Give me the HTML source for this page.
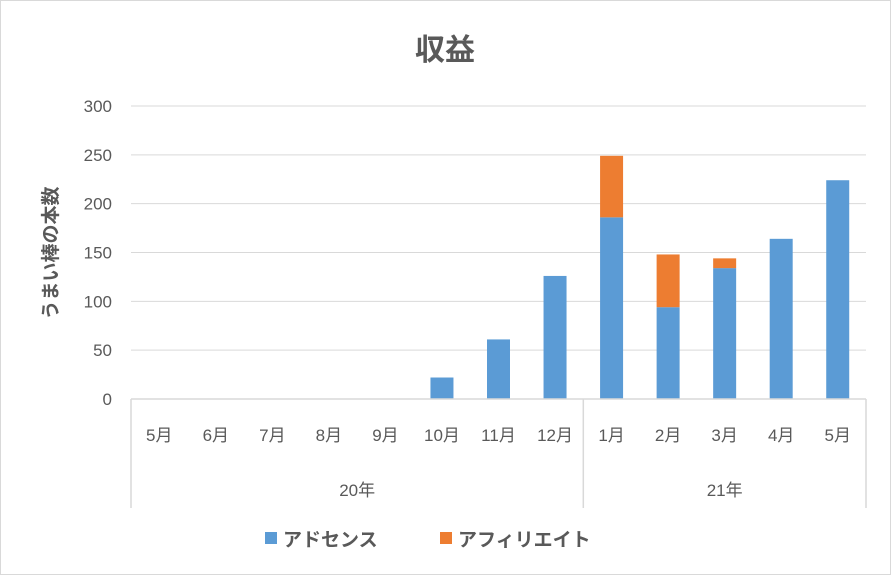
<!DOCTYPE html>
<html><head><meta charset="utf-8"><style>
body{margin:0;background:#fff}
svg{display:block;font-family:"Liberation Sans","Noto Sans CJK JP",sans-serif}
</style></head><body>
<svg id="c" width="891" height="575">
<rect x="0.5" y="0.5" width="890" height="574" fill="#fff" stroke="#d9d9d9"/>
<text x="445" y="60" text-anchor="middle" font-size="30" font-weight="bold" fill="#595959">収益</text>
<text transform="translate(57,253) rotate(-90)" text-anchor="middle" font-size="19" font-weight="bold" fill="#595959">うまい棒の本数</text>
<g id="grid"></g><g id="bars"></g><g id="axis"></g>
<g>
<rect x="265" y="532" width="12" height="12" fill="#5b9bd5"/>
<text x="283" y="546" font-size="19" font-weight="bold" fill="#595959">アドセンス</text>
<rect x="440" y="532" width="12" height="12" fill="#ed7d31"/>
<text x="458" y="546" font-size="19" font-weight="bold" fill="#595959">アフィリエイト</text>
</g>
</svg>
<script>
const months=["5月","6月","7月","8月","9月","10月","11月","12月","1月","2月","3月","4月","5月"];
const adsense=[0,0,0,0,0,22,61,126,186,94,134,164,224];
const affiliate=[0,0,0,0,0,0,0,0,63,54,10,0,0];
const yTicks=[0,50,100,150,200,250,300];
const years=["20年","21年"];
const yearSpans=[8,5];
const NS="http://www.w3.org/2000/svg";
const x0=131,x1=866,y0=399,yTop=106,yMax=300;
const bw=(x1-x0)/months.length;
const Y=v=>y0-(v/yMax)*(y0-yTop);
const X=i=>x0+bw*(i+0.5);
function mk(t,a,p){const e=document.createElementNS(NS,t);for(const k in a)e.setAttribute(k,a[k]);p.appendChild(e);return e;}
const grid=document.getElementById('grid'),bars=document.getElementById('bars'),axis=document.getElementById('axis');
yTicks.forEach(v=>{
 if(v>0){const l=mk('line',{x1:x0,x2:x1,y1:Y(v),y2:Y(v),stroke:'#d9d9d9','stroke-width':1},grid);
 
 }
 const t=mk('text',{x:112,y:Y(v)+6,'text-anchor':'end','font-size':17,fill:'#595959'},axis);
 t.textContent=v;
 
 
});
months.forEach((m,i)=>{
 const w=23,cx=X(i);
 if(adsense[i]>0){const r=mk('rect',{x:cx-w/2,y:Y(adsense[i]),width:w,height:y0-Y(adsense[i]),fill:'#5b9bd5'},bars);
 
 }
 if(affiliate[i]>0){const top=adsense[i]+affiliate[i];const r=mk('rect',{x:cx-w/2,y:Y(top),width:w,height:Y(adsense[i])-Y(top),fill:'#ed7d31'},bars);
 
 }
 const t=mk('text',{x:cx,y:441,'text-anchor':'middle','font-size':17,fill:'#595959'},axis);
 t.textContent=m;
 
 
});
const base=mk('line',{x1:x0,x2:x1,y1:y0,y2:y0,stroke:'#d9d9d9','stroke-width':1.5},axis);


let start=0;
const sepAt=[0];
yearSpans.forEach((n,j)=>{
 const cx=x0+bw*(start+n/2);
 const t=mk('text',{x:cx,y:496,'text-anchor':'middle','font-size':17,fill:'#595959'},axis);
 t.textContent=years[j];
 
 
 start+=n;sepAt.push(start);
});
sepAt.forEach(k=>{
 const l=mk('line',{x1:x0+bw*k,x2:x0+bw*k,y1:y0,y2:508,stroke:'#d9d9d9','stroke-width':1.5},axis);
 
 
});
</script>
</body></html>
